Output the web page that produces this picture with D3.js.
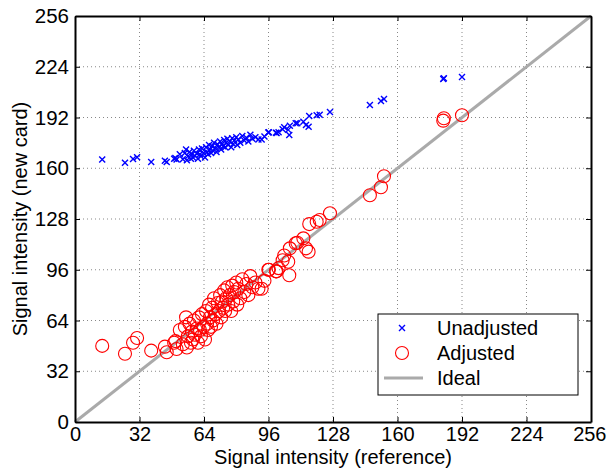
<!DOCTYPE html>
<html>
<head>
<meta charset="utf-8">
<script src="https://cdn.jsdelivr.net/npm/d3@7"></script>
<style>
  body { margin: 0; background: #fff; }
  svg { font-family: "Liberation Sans", Arial, sans-serif; }
</style>
</head>
<body>
<div id="chart"></div>
<script>
// reference intensity (x) shared by both series
const reference = [13.5, 24.8, 28.8, 30.8, 37.8, 44.6, 45.5, 49.2, 49.8, 50.4,
  52, 53.5, 54.5, 55.1, 55.5, 56, 56.8, 57.5, 58, 58.5,
  59, 59.5, 60.4, 61, 61.5, 62, 62.5, 63, 63.8, 64.5,
  65, 65.5, 66, 66.5, 67, 67.5, 68, 68.5, 69, 69.8,
  70.2, 70.8, 71.5, 72, 72.5, 73, 73.5, 74, 74.5, 75,
  75.6, 76, 76.8, 77.5, 78, 78.5, 79, 80, 80.5, 81,
  82, 83, 84, 85, 86, 87, 88, 89.5, 91, 92.6,
  94, 95.9, 96.2, 99.7, 100, 101, 103, 103.8, 105.8, 106.3,
  106.6, 109.5, 110.3, 113.3, 114.6, 115.9, 116.2, 119.9, 121.4, 126.5,
  146.3, 151.8, 153.3, 182.7, 183, 192];

// new card, before adjustment
const unadjusted = [165.5, 163.5, 165.8, 167, 164, 164.8, 164, 166, 166.5, 165.5,
  168.9, 165.7, 169.6, 171.8, 165, 167.5, 170.3, 166, 168.6, 166.8,
  171.1, 167.8, 169.3, 166, 171.8, 168.9, 167.5, 172.5, 169.6, 166.8,
  173.2, 170.3, 168.9, 174.6, 171.8, 169.6, 173.9, 171.1, 176.1, 172.5,
  170.3, 175, 173.2, 176.8, 171.8, 175.3, 173.9, 177.8, 173.2, 176.1,
  178.6, 174.6, 176.8, 173.2, 178.9, 175.3, 177.5, 179.6, 174.6, 178.2,
  176.1, 180.3, 177.5, 179.3, 176.8, 181.1, 178.6, 179.6, 178.2, 178.2,
  180, 182.5, 182.7, 182.4, 182.2, 182.7, 184.6, 185.8, 184.2, 181,
  186.8, 188.3, 188.3, 189.3, 187.3, 186.2, 192.9, 193.4, 193.8, 195.5,
  199.9, 202.4, 203.7, 216.3, 216.8, 217.5];

// new card, after adjustment
const adjusted = [48, 43, 50, 53, 45, 47.5, 44, 50, 51, 46,
  58, 49, 60, 66, 47, 54, 62, 50, 57, 52,
  64, 55, 59, 50, 66, 58, 54, 68, 60, 52,
  70, 62, 58, 74, 66, 60, 72, 64, 78, 68,
  62, 75, 70, 80, 66, 76, 72, 83, 70, 78,
  85, 74, 80, 70, 86, 76, 82, 88, 74, 84,
  78, 90, 82, 87, 80, 92, 85, 88, 84, 84,
  89, 96, 96, 95, 95, 97, 102, 105, 101, 92.5,
  109.5, 112.7, 113, 115.8, 109.5, 107.4, 124.8, 126.3, 127.4, 131.6,
  143, 148, 155, 190, 191.5, 193.4];

const ticks = [0, 32, 64, 96, 128, 160, 192, 224, 256];
const legendLabels = ['Unadjusted', 'Adjusted', 'Ideal'];

const W = 607, H = 468;
const margin = { top: 16, right: 16, bottom: 46, left: 75 };
const width = W - margin.left - margin.right;
const height = H - margin.top - margin.bottom;

const svg = d3.select('#chart').append('svg')
  .attr('width', W)
  .attr('height', H);

const chart = svg.append('g')
  .attr('transform', `translate(${margin.left},${margin.top})`);

const x = d3.scaleLinear().domain([0, 256]).range([0, width]);
const y = d3.scaleLinear().domain([0, 256]).range([height, 0]);

// dotted grid
chart.append('g').selectAll('line.gx')
  .data(ticks.slice(1, -1))
  .join('line')
  .attr('x1', d => x(d)).attr('x2', d => x(d))
  .attr('y1', 0).attr('y2', height)
  .attr('stroke', '#888').attr('stroke-width', 1)
  .attr('stroke-dasharray', '1,3');

chart.append('g').selectAll('line.gy')
  .data(ticks.slice(1, -1))
  .join('line')
  .attr('y1', d => y(d)).attr('y2', d => y(d))
  .attr('x1', 0).attr('x2', width)
  .attr('stroke', '#888').attr('stroke-width', 1)
  .attr('stroke-dasharray', '1,3');

// ideal line
chart.append('line')
  .attr('x1', x(0)).attr('y1', y(0))
  .attr('x2', x(256)).attr('y2', y(256))
  .attr('stroke', '#aaaaaa').attr('stroke-width', 3);

const pts = reference.map((r, i) => ({ r, u: unadjusted[i], a: adjusted[i] }));

// unadjusted: blue crosses
const s = 3;
chart.append('g').selectAll('path.cross')
  .data(pts)
  .join('path')
  .attr('d', d => {
    const cx = x(d.r), cy = y(d.u);
    return `M${cx - s},${cy - s}L${cx + s},${cy + s}M${cx - s},${cy + s}L${cx + s},${cy - s}`;
  })
  .attr('stroke', '#0000ff').attr('stroke-width', 1.4).attr('fill', 'none');

// adjusted: red circles
chart.append('g').selectAll('circle')
  .data(pts)
  .join('circle')
  .attr('cx', d => x(d.r))
  .attr('cy', d => y(d.a))
  .attr('r', 6.5)
  .attr('fill', 'none')
  .attr('stroke', '#ff0000').attr('stroke-width', 1.1);

// axes (MATLAB style: inward ticks, box)
const xAxis = d3.axisBottom(x).tickValues(ticks).tickSizeInner(-5).tickSizeOuter(0).tickPadding(5);
const yAxis = d3.axisLeft(y).tickValues(ticks).tickSizeInner(-5).tickSizeOuter(0).tickPadding(6);

const gx = chart.append('g')
  .attr('transform', `translate(0,${height})`)
  .call(xAxis);
const gy = chart.append('g').call(yAxis);

chart.append('g')
  .call(d3.axisTop(x).tickValues(ticks).tickSizeInner(-5).tickSizeOuter(0).tickFormat(''));
chart.append('g').attr('transform', `translate(${width},0)`)
  .call(d3.axisRight(y).tickValues(ticks).tickSizeInner(-5).tickSizeOuter(0).tickFormat(''));

chart.selectAll('.domain').attr('stroke', '#000').attr('stroke-width', 2);
chart.selectAll('.tick line').attr('stroke', '#000').attr('stroke-width', 1);
gx.selectAll('.tick text').attr('font-size', 20).attr('fill', '#000').attr('dy', '0.72em');
gx.selectAll('.tick text').filter(d => d === 256).attr('text-anchor', 'end').attr('dx', 15);
gy.selectAll('.tick text').attr('font-size', 20.5).attr('fill', '#000');

// axis labels
svg.append('text')
  .attr('x', margin.left + width / 2)
  .attr('y', H - 4)
  .attr('text-anchor', 'middle')
  .attr('font-size', 20)
  .text('Signal intensity (reference)');

svg.append('text')
  .attr('transform', `translate(27,${margin.top + height / 2}) rotate(-90)`)
  .attr('text-anchor', 'middle')
  .attr('font-size', 20)
  .text('Signal intensity (new card)');

// legend
const legend = svg.append('g').attr('transform', 'translate(378,314)');
legend.append('rect')
  .attr('width', 200).attr('height', 81)
  .attr('fill', '#fff').attr('stroke', '#000').attr('stroke-width', 1);

const rows = legend.selectAll('g.row')
  .data(legendLabels)
  .join('g')
  .attr('transform', (d, i) => `translate(0,${14 + i * 25})`);

rows.append('text')
  .attr('x', 59).attr('y', 0).attr('dy', '0.35em')
  .attr('font-size', 20)
  .text(d => d);

rows.filter((d, i) => i === 0).append('path')
  .attr('d', `M${24 - s},${-s}L${24 + s},${s}M${24 - s},${s}L${24 + s},${-s}`)
  .attr('stroke', '#0000ff').attr('stroke-width', 1.4);
rows.filter((d, i) => i === 1).append('circle')
  .attr('cx', 24).attr('cy', 0).attr('r', 6.5)
  .attr('fill', 'none').attr('stroke', '#ff0000').attr('stroke-width', 1.1);
rows.filter((d, i) => i === 2).append('line')
  .attr('x1', 6).attr('x2', 45).attr('y1', 0).attr('y2', 0)
  .attr('stroke', '#aaaaaa').attr('stroke-width', 3);
</script>
</body>
</html>
